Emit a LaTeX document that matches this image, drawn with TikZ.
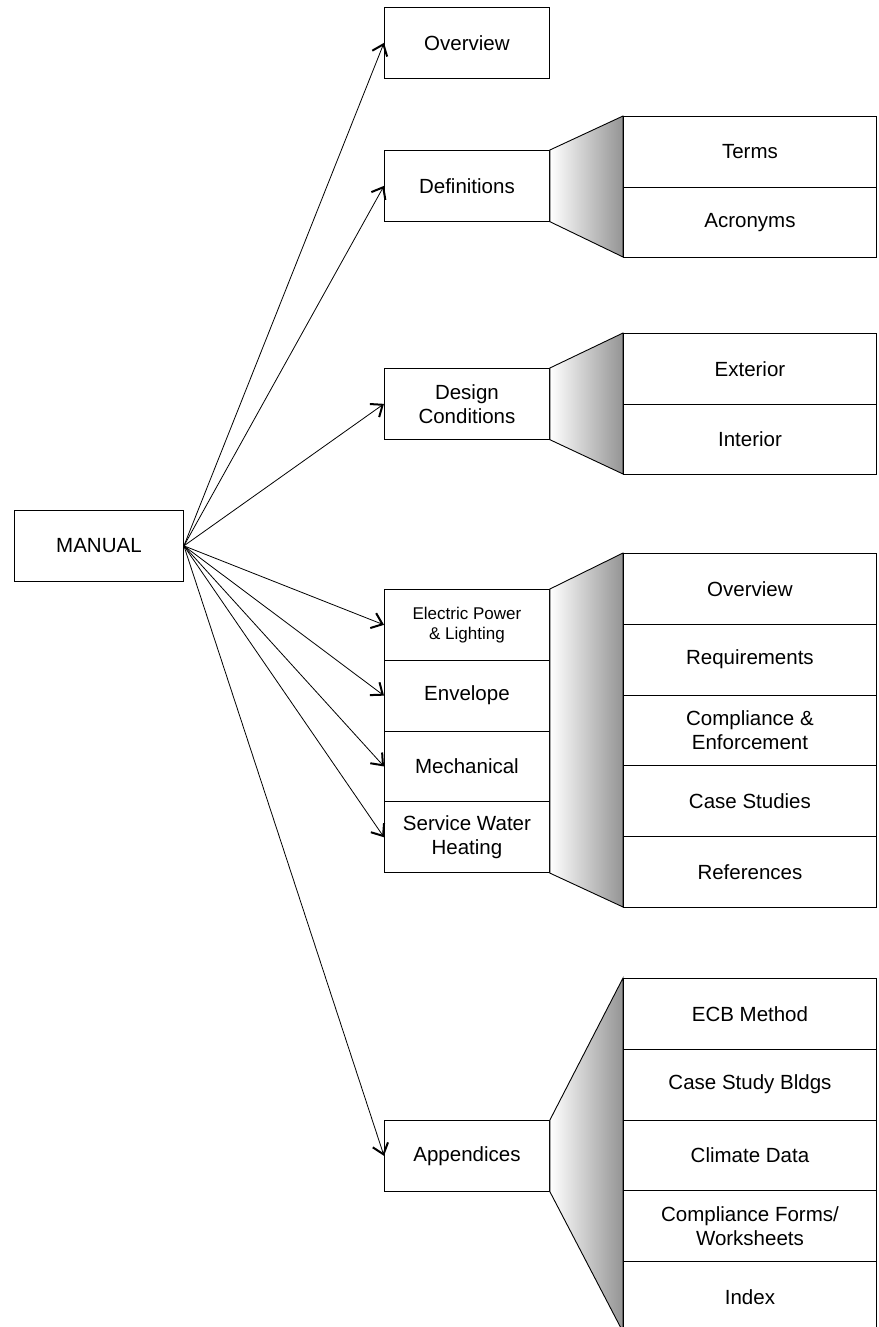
\documentclass[tikz,border=0pt]{standalone}
\usepackage{fontspec}
\setmainfont{Liberation Sans}
\usetikzlibrary{arrows.meta,positioning}
\begin{document}
\begin{tikzpicture}[x=1pt,y=-1pt,
  box/.style={draw=black, line width=0.9pt, fill=white, inner sep=0pt, anchor=north west,
    minimum width=165pt, minimum height=70.8pt, align=center, font=\fontsize{20.5}{24}\selectfont},
  wbox/.style={box, minimum width=253pt},
  funnel/.style={draw=black, line width=0.9pt, left color=white, right color=black!42},
  arr/.style={draw=black, line width=0.8pt, -{Straight Barb[length=10pt,width=16pt,line width=2pt]}}
]
\useasboundingbox (0,0) rectangle (878,1327);
% left column
\node[box, minimum width=169pt] (m) at (14,510) {MANUAL};
\node[box] (ov) at (384,7) {Overview};
\node[box] (def) at (384,150) {Definitions};
\node[box] (dc) at (384,368) {Design\\Conditions};
\node[box, font=\fontsize{17}{20}\selectfont] (ep) at (384,589) {Electric Power\\\& Lighting};
\node[box] (env) at (384,659.8) {Envelope};
\node[box] (mech) at (384,730.6) {Mechanical};
\node[box] (swh) at (384,801.4) {Service Water\\Heating};
\node[box] (app) at (384,1120) {Appendices};
% funnels
\path[funnel] (def.north east) -- (623,116) -- (623,257) -- (def.south east) -- cycle;
\path[funnel] (dc.north east) -- (623,333) -- (623,474) -- (dc.south east) -- cycle;
\path[funnel] (ep.north east) -- (623,553) -- (623,907) -- (swh.south east) -- cycle;
\path[funnel] (app.north east) -- (623,978) -- (623,1332) -- (app.south east) -- cycle;
% right columns
\node[wbox, minimum height=70.5pt] (terms) at (623,116) {Terms};
\node[wbox, minimum height=70.5pt] (acr) at (623,186.5) {Acronyms};
\node[wbox, minimum height=70.5pt] (ext) at (623,333) {Exterior};
\node[wbox, minimum height=70.5pt] (int) at (623,403.5) {Interior};
\node[wbox] (sov) at (623,553) {Overview};
\node[wbox] (req) at (623,623.8) {Requirements};
\node[wbox] (ce) at (623,694.6) {Compliance \&\\Enforcement};
\node[wbox] (cs) at (623,765.4) {Case Studies};
\node[wbox] (refs) at (623,836.2) {References};
\node[wbox] (ecb) at (623,978) {ECB Method};
\node[wbox] (csb) at (623,1048.8) {Case Study Bldgs};
\node[wbox] (cd) at (623,1119.6) {Climate Data};
\node[wbox] (cf) at (623,1190.4) {Compliance Forms/\\Worksheets};
\node[wbox] (idx) at (623,1261.2) {Index};
% arrows
\foreach \t in {ov,def,dc,ep,env,mech,swh,app}
  \draw[arr] (m.east) -- (\t.west);
\end{tikzpicture}
\end{document}
